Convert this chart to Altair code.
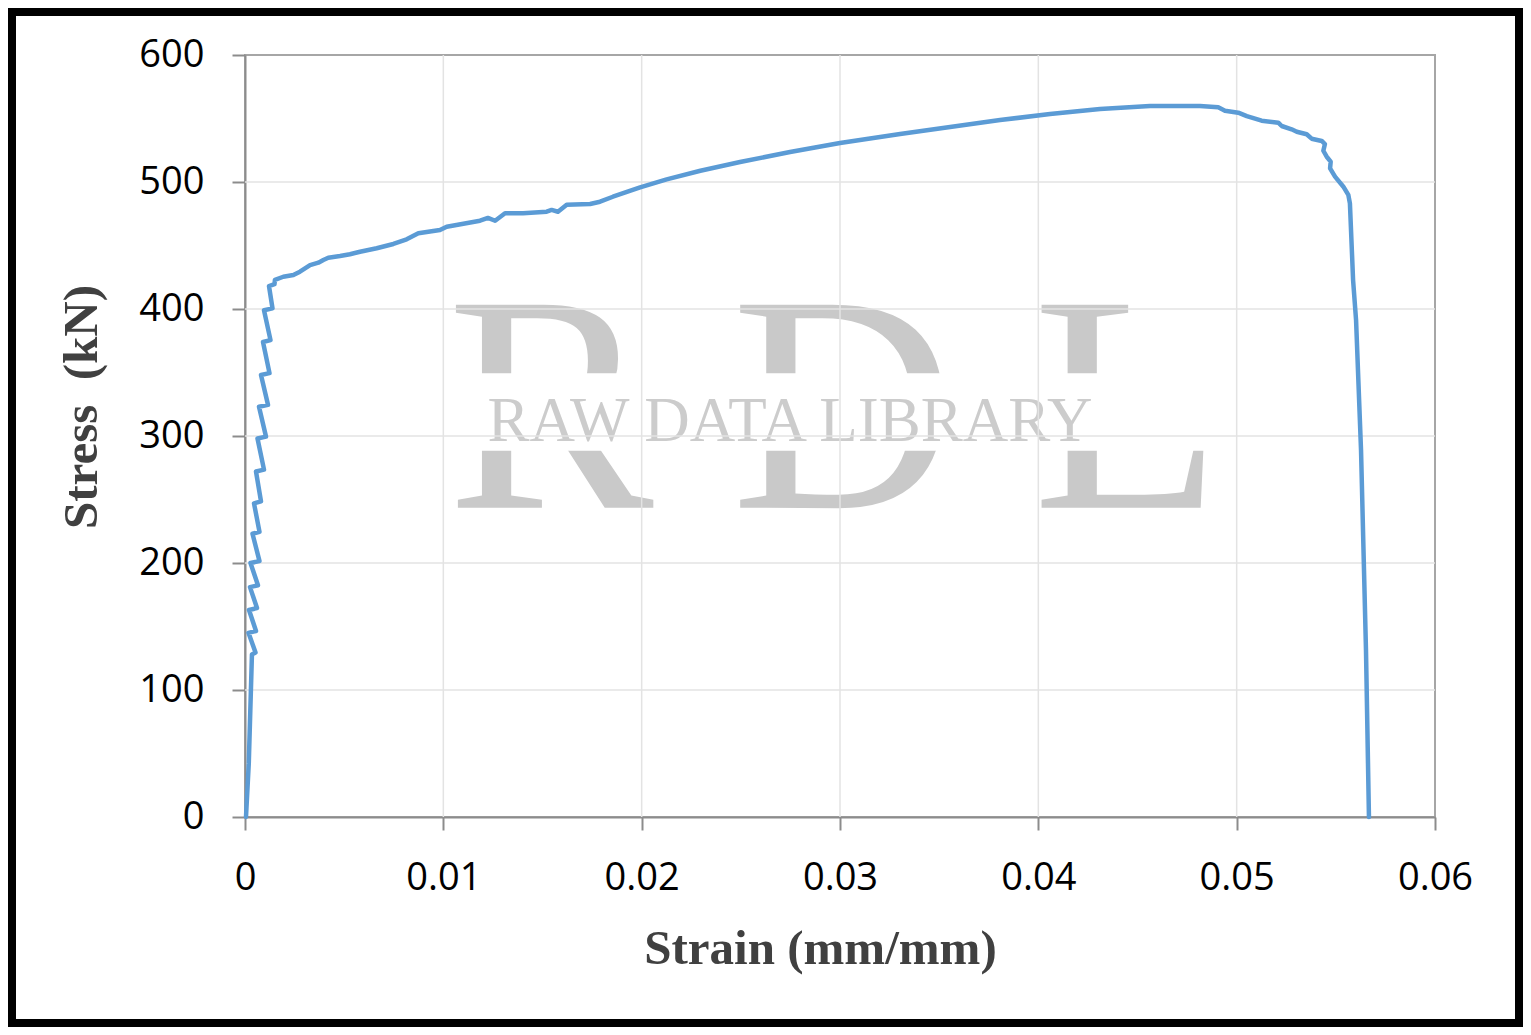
import altair as alt
import pandas as pd

# ---- data ----
strain = [
    0.00005, 0.00019, 0.00035, 0.00053,
    0.000176, 0.000555, 0.000202, 0.000605, 0.000252, 0.000655,
    0.000277, 0.000731, 0.000378, 0.000731, 0.000454, 0.000807,
    0.000555, 0.000958, 0.00063, 0.001059, 0.000706, 0.00116,
    0.000807, 0.001235, 0.000908, 0.001286, 0.000958, 0.001387,
    0.00121, 0.001487,
    0.00151, 0.00193, 0.00244, 0.00277, 0.00328, 0.0037, 0.00395, 0.0042,
    0.00479, 0.00529, 0.0058, 0.00664, 0.00748, 0.00815, 0.00874, 0.00983,
    0.01017, 0.01185, 0.01225, 0.01261, 0.01311, 0.01402, 0.01521, 0.01546,
    0.01578, 0.01622, 0.0174, 0.0179, 0.01855, 0.01992, 0.02126, 0.02296,
    0.02496, 0.02748, 0.03, 0.03303, 0.03555, 0.03807, 0.04059, 0.04311,
    0.04563, 0.04815, 0.04907, 0.04941, 0.05008, 0.05051, 0.05126, 0.0521,
    0.05227, 0.05277, 0.05303, 0.05353, 0.05378, 0.05429, 0.05445, 0.05437,
    0.05454, 0.05474, 0.05471, 0.05496, 0.05538, 0.05563, 0.05571, 0.05587,
    0.05602, 0.05627, 0.05652, 0.05667,
]
stress = [
    0, 42, 128, 129.5,
    145, 146.5, 163, 164.5, 181, 182.5,
    200, 201.5, 223, 224.5, 247, 248.5,
    272, 273.5, 298, 299.5, 323, 324.5,
    348, 349.5, 374, 375.5, 399, 400.5,
    418, 419.5,
    423, 425.4, 426.8, 429.4, 434.6, 436.5, 438.6, 440.4,
    441.7, 443.1, 445.1, 447.8, 451.2, 454.9, 459.6, 462.2,
    464.8, 469.5, 471.7, 469.5, 475.4, 475.4, 476.6, 478.0,
    476.6, 482.1, 482.7, 484.5, 488.4, 495.8, 502.1, 508.9,
    515.7, 523.6, 530.7, 537.8, 543.3, 548.8, 553.5, 557.5,
    559.8, 559.8, 558.8, 556.1, 554.6, 551.9, 548.3, 546.7,
    544.1, 541.5, 539.6, 537.6, 534.1, 532.3, 529.9, 524.6,
    519.9, 516.0, 510.8, 504.2, 496.3, 489.8, 483.2, 422.8,
    391.3, 289, 131.5, 0,
]
x_ticks = [0, 0.01, 0.02, 0.03, 0.04, 0.05, 0.06]
y_ticks = [0, 100, 200, 300, 400, 500, 600]
x_title = "Strain (mm/mm)"
y_title = "Stress\u00a0 (kN)"
wm_big = "R D L"
wm_small = "RAW DATA LIBRARY"

curve = pd.DataFrame({"strain": strain, "stress": stress, "i": range(len(strain))})
xs = alt.Scale(domain=[0, 0.06], nice=False, zero=True)
ys = alt.Scale(domain=[0, 600], nice=False, zero=True)

AX = "#8c8c8c"
x_axis = alt.Axis(
    values=x_ticks, format="~g", grid=False, labelFont="Open Sans", labelFontSize=38,
    labelColor="black", labelPadding=29, tickSize=13, tickColor=AX, tickWidth=2,
    domainColor=AX, domainWidth=2, labelFlush=False, labelOverlap=False,
    title=x_title, titleFont="Liberation Serif", titleFontWeight="bold", titleFontSize=49,
    titleColor="#404040", titleX=575, titleY=146, titleAlign="center",
    titleBaseline="alphabetic")
y_axis = alt.Axis(
    values=y_ticks, format="d", grid=False, labelFont="Open Sans", labelFontSize=38,
    labelColor="black", labelPadding=28, tickSize=13, tickColor=AX, tickWidth=2,
    domainColor=AX, domainWidth=2, labelFlush=False, labelOverlap=False,
    title=y_title, titleFont="Liberation Serif", titleFontWeight="bold", titleFontSize=49,
    titleColor="#404040", titleX=-149, titleY=351.5, titleAlign="center",
    titleAngle=270, titleBaseline="alphabetic")

WM = "#c9c9c9"

big = alt.Chart(pd.DataFrame({"t": [wm_big]})).mark_text(
    font="Liberation Serif", fontSize=310, color=WM, align="left", baseline="alphabetic"
).encode(x=alt.value(202), y=alt.value(452.7), text="t:N")

band = alt.Chart(pd.DataFrame({"t": [0]})).mark_rect(color="white").encode(
    x=alt.value(200), x2=alt.value(975), y=alt.value(318.3), y2=alt.value(395.7)
)

small = alt.Chart(pd.DataFrame({"t": [wm_small]})).mark_text(
    font="Liberation Serif", fontSize=63, color="#cccccc", align="center", baseline="alphabetic"
).encode(x=alt.value(545), y=alt.value(385.7), text="t:N")

vgrid = alt.Chart(pd.DataFrame({"strain": x_ticks[1:-1]})).mark_rule(
    color="#e3e3e3", strokeWidth=1.5
).encode(x=alt.X("strain:Q", scale=xs, axis=x_axis))

hgrid = alt.Chart(pd.DataFrame({"stress": y_ticks[1:-1]})).mark_rule(
    color="#e3e3e3", strokeWidth=1.5
).encode(y=alt.Y("stress:Q", scale=ys, axis=y_axis))

line = alt.Chart(curve).mark_line(
    color="#5b9bd5", strokeWidth=4.5, strokeJoin="round", strokeCap="round"
).encode(
    x=alt.X("strain:Q", scale=xs, axis=x_axis),
    y=alt.Y("stress:Q", scale=ys, axis=y_axis),
    order="i:Q",
)

border = alt.Chart(pd.DataFrame({"t": [0]})).mark_rect(
    fillOpacity=0, stroke="black", strokeWidth=8
).encode(x=alt.value(-233), x2=alt.value(1274), y=alt.value(-43), y2=alt.value(968))

chart = alt.layer(big, band, small, vgrid, hgrid, line, border).properties(
    width=1190, height=762,
    padding={"left": 237, "top": 47, "right": 88, "bottom": 210},
    autosize="none", background="white",
).configure_view(stroke="#a6a6a6", strokeWidth=2)

chart.save("out.html", embed_options={"renderer": "svg", "actions": False})
